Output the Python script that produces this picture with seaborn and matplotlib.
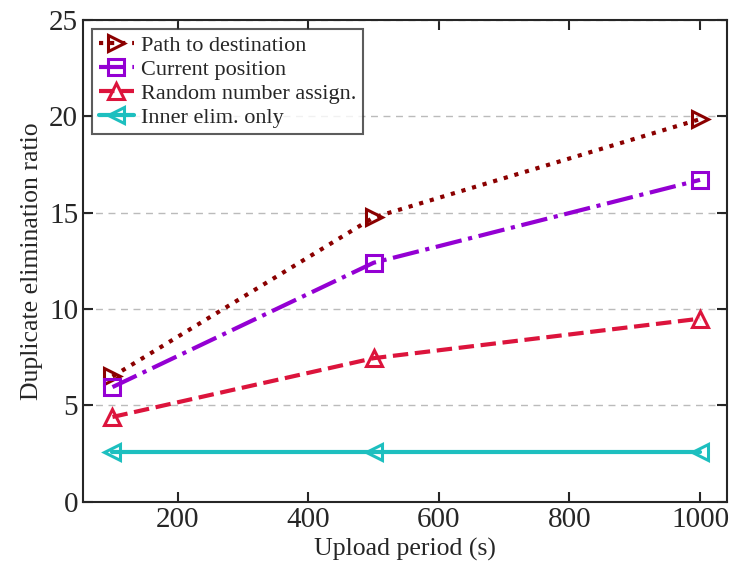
import matplotlib
matplotlib.use("Agg")
from matplotlib import pyplot as plt
import pandas as pd
import seaborn as sns

periods = [100, 500, 1000]
path_dest = [6.5, 14.75, 19.85]
current_pos = [5.95, 12.4, 16.7]
random_assign = [4.4, 7.45, 9.5]
inner_only = [2.6, 2.6, 2.6]

names = ["Path to destination", "Current position", "Random number assign.", "Inner elim. only"]
series = [path_dest, current_pos, random_assign, inner_only]
colors = ["#8B0000", "#9400D3", "#DC143C", "#1DBFBF"]
styles = [":", "-.", "--", "-"]
marks = [">", "s", "^", "<"]

sns.set_style("ticks")
plt.rcParams["font.family"] = ["Liberation Serif", "DejaVu Serif"]

f, ax = plt.subplots(figsize=(7.29, 5.67), dpi=100)
for name, vals, c, ls, m in zip(names, series, colors, styles, marks):
    df = pd.DataFrame({"period": periods, "ratio": vals})
    sns.lineplot(data=df, x="period", y="ratio", ax=ax, color=c, linestyle=ls, linewidth=3,
                 marker=m, markersize=11, markerfacecolor="none", markeredgecolor=c,
                 markeredgewidth=2.2, label=name)

ax.set_xlim(55, 1041)
ax.set_ylim(0, 25)
ax.set_xticks([200, 400, 600, 800, 1000])
ax.set_yticks([0, 5, 10, 15, 20, 25])
ax.yaxis.grid(True, linestyle=(0, (5, 4)), color="#bbbbbb", linewidth=1)
ax.tick_params(direction="in", top=True, right=True, labelsize=21, length=7, width=1.5)
for s in ax.spines.values():
    s.set_linewidth(1.5)
ax.set_xlabel("Upload period (s)", fontsize=18.5, labelpad=4)
ax.set_ylabel("Duplicate elimination ratio", fontsize=18.5, labelpad=4)
leg = ax.legend(loc="upper left", fontsize=16, frameon=True, fancybox=False, edgecolor="#333333",
                handlelength=1.6, borderpad=0.3, labelspacing=0.15, handletextpad=0.3,
                borderaxespad=0.4)
leg.get_frame().set_linewidth(1.5)
plt.subplots_adjust(left=0.114, right=0.997, top=0.965, bottom=0.115)
plt.savefig("out.png", dpi=100)
plt.close()
